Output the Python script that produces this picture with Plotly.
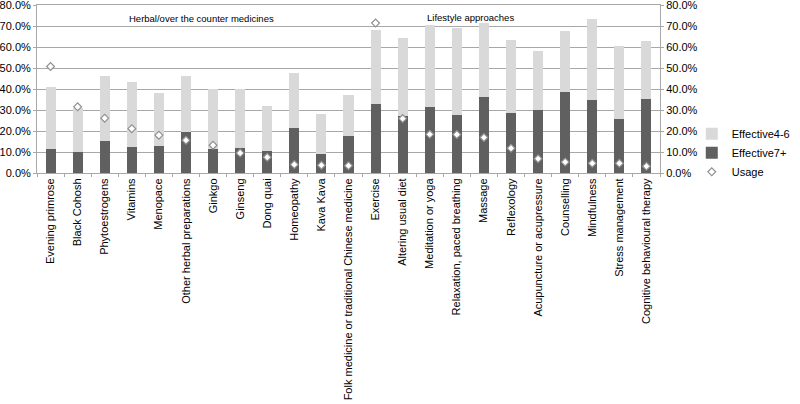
import plotly.graph_objects as go

categories = [
    "Evening primrose", "Black Cohosh", "Phytoestrogens", "Vitamins", "Menopace",
    "Other herbal preparations", "Ginkgo", "Ginseng", "Dong quai", "Homeopathy",
    "Kava Kava", "Folk medicine or traditional Chinese medicine",
    "Exercise", "Altering usual diet", "Meditation or yoga", "Relaxation, paced breathing",
    "Massage", "Reflexology", "Acupuncture or acupressure", "Counselling",
    "Mindfulness", "Stress management", "Cognitive behavioural therapy",
]
effective_7plus = [11.3, 10.0, 15.3, 12.2, 12.7, 19.7, 11.6, 11.9, 10.5, 21.5, 9.2, 17.8,
                   32.7, 27.2, 31.3, 27.8, 36.2, 28.5, 29.9, 38.5, 34.7, 25.9, 35.3]
total_effective = [41.0, 30.8, 46.3, 43.2, 38.3, 46.4, 40.1, 40.2, 31.8, 47.7, 28.0, 37.0,
                   68.0, 64.1, 70.4, 69.0, 71.2, 63.1, 58.3, 67.4, 73.1, 60.3, 63.0]
usage = [50.7, 31.5, 26.1, 21.1, 18.0, 15.6, 13.2, 9.5, 7.5, 4.0, 3.7, 3.5,
         71.4, 25.9, 18.4, 18.3, 16.9, 11.8, 6.8, 5.2, 4.6, 4.6, 3.2]
effective_4to6 = [round(t - d, 1) for t, d in zip(total_effective, effective_7plus)]

pct = lambda v: [x / 100 for x in v]

FONT = "Liberation Sans, Arial, sans-serif"
fig = go.Figure()
fig.add_trace(go.Bar(x=categories, y=pct(effective_7plus), name="Effective7+",
                     marker=dict(color="#606060", line=dict(width=0)), legendrank=2))
fig.add_trace(go.Bar(x=categories, y=pct(effective_4to6), name="Effective4-6",
                     marker=dict(color="#d9d9d9", line=dict(width=0)), legendrank=1))
fig.add_trace(go.Scatter(x=categories, y=pct(usage), name="Usage", mode="markers",
                         marker=dict(symbol="diamond", size=6, color="white",
                                     line=dict(color="#909090", width=1.2)),
                         legendrank=3))
# invisible trace to drive the right-hand axis
fig.add_trace(go.Scatter(x=categories, y=pct(usage), yaxis="y2", mode="markers",
                         marker=dict(opacity=0), showlegend=False, hoverinfo="skip"))

axis_common = dict(range=[0, 0.8], dtick=0.1, tickformat=".1%",
                   showline=True, linecolor="#a8a8a8", automargin=False,
                   ticks="outside", ticklen=3, tickcolor="#a8a8a8",
                   ticklabeloverflow="allow",
                   tickfont=dict(family=FONT, size=11, color="black"), zeroline=False)

fig.update_layout(
    width=800, height=404,
    margin=dict(l=37, r=111, t=5, b=231),
    paper_bgcolor="white", plot_bgcolor="white",
    barmode="stack", bargap=0.63,
    font=dict(family=FONT, color="black"),
    xaxis=dict(tickangle=-90, tickfont=dict(family=FONT, size=11, color="black"),
               range=[-0.5, len(categories) - 0.5], autorange=False,
               showline=True, mirror=True, linecolor="#a8a8a8", ticks="outside", ticklen=3,
               tickcolor="#a8a8a8", tickson="boundaries", showgrid=False, automargin=False,
               ticklabeloverflow="allow"),
    yaxis=dict(showgrid=True, gridcolor="#a8a8a8", gridwidth=1, **axis_common),
    yaxis2=dict(overlaying="y", side="right", showgrid=False, **axis_common),
    legend=dict(x=1.051, y=0.12, xanchor="left", yanchor="middle", traceorder="normal",
                font=dict(family=FONT, size=11, color="black"),
                itemwidth=30, tracegroupgap=0, bgcolor="rgba(0,0,0,0)"),
    annotations=[
        dict(x=0.264, y=0.917, xref="paper", yref="paper", xanchor="center", yanchor="middle",
             text="Herbal/over the counter medicines",
             showarrow=False, font=dict(family=FONT, size=9.5, color="black")),
        dict(x=0.696, y=0.923, xref="paper", yref="paper", xanchor="center", yanchor="middle",
             text="Lifestyle approaches",
             showarrow=False, font=dict(family=FONT, size=9.5, color="black")),
    ],
)

fig.write_html("out.html", config={"displayModeBar": False},
               post_script="document.body.style.margin='0';")
